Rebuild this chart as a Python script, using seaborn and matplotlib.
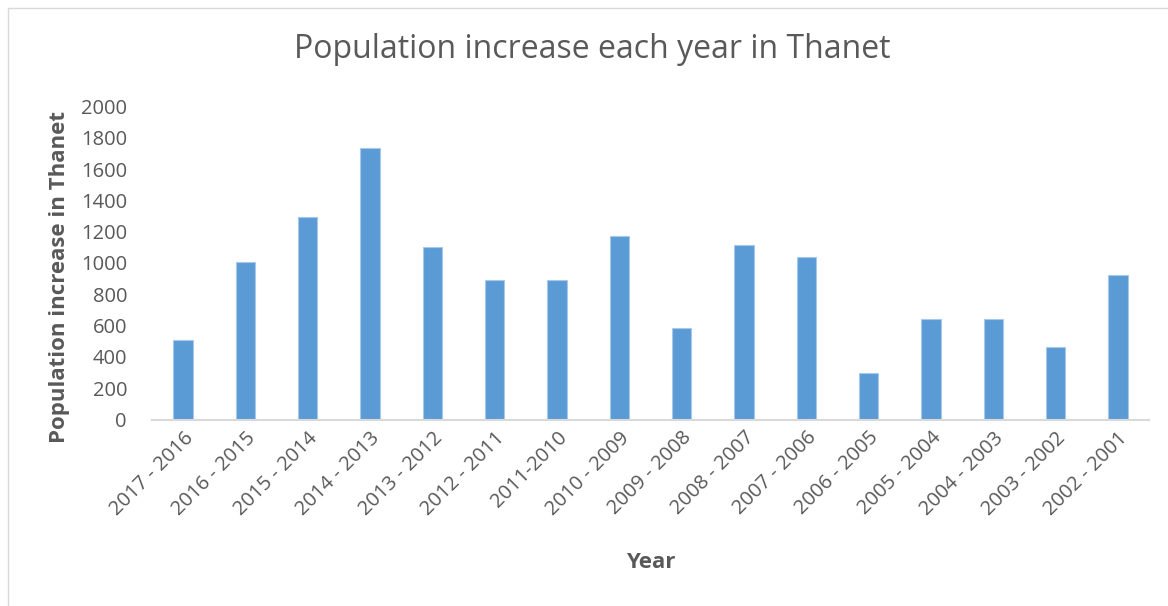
import matplotlib
matplotlib.use("Agg")
import matplotlib.pyplot as plt
import seaborn as sns
import pandas as pd
from matplotlib.patches import Rectangle

periods = ["2017 - 2016", "2016 - 2015", "2015 - 2014", "2014 - 2013", "2013 - 2012",
           "2012 - 2011", "2011-2010", "2010 - 2009", "2009 - 2008", "2008 - 2007",
           "2007 - 2006", "2006 - 2005", "2005 - 2004", "2004 - 2003", "2003 - 2002",
           "2002 - 2001"]
increase = [508, 1004, 1296, 1735, 1104, 891, 891, 1172, 585, 1113, 1036, 295, 640, 640, 461, 923]
y_ticks = [0, 200, 400, 600, 800, 1000, 1200, 1400, 1600, 1800, 2000]

sns.set_theme(style="white")
plt.rcParams['font.family'] = ['Open Sans', 'DejaVu Sans']

W, H = 1168, 606
fig = plt.figure(figsize=(W / 100, H / 100), dpi=100)
ax = fig.add_axes([152 / W, 1 - 419.5 / H, (1149 - 152) / W, (419.5 - 106.5) / H])

df = pd.DataFrame({"period": periods, "increase": increase})
sns.barplot(data=df, x="period", y="increase", ax=ax, color="#5b9bd5",
            saturation=1, width=0.31, edgecolor="#a8c8ea", linewidth=0.8)

ax.set_ylim(0, 2000)
ax.set_yticks(y_ticks)
ax.set_xlim(-0.5, len(periods) - 0.5)
grey = "#595959"
ax.tick_params(axis="y", labelsize=14.5, colors=grey, length=0, pad=18)
ax.tick_params(axis="x", labelsize=14.5, colors=grey, length=0, pad=6)
plt.setp(ax.get_xticklabels(), rotation=45, ha="right", rotation_mode="anchor")

for s in ["top", "right", "left"]:
    ax.spines[s].set_visible(False)
ax.spines["bottom"].set_color("#d9d9d9")
ax.spines["bottom"].set_linewidth(1.5)

ax.set_xlabel("")
ax.set_ylabel("")
fig.text(651 / W, 1 - 563 / H, "Year", ha="center", va="center",
         fontsize=16, fontweight="bold", color=grey)
fig.text(60 / W, 1 - 277 / H, "Population increase in Thanet", ha="center", va="center",
         rotation=90, fontsize=16, fontweight="bold", color=grey)
fig.text(592 / W, 1 - 50 / H, "Population increase each year in Thanet", ha="center",
         va="center", fontsize=23, color=grey)

fig.add_artist(Rectangle((8 / W, -0.05), 1.2, 1 - 8 / H + 0.05, transform=fig.transFigure,
                         fill=False, edgecolor="#d9d9d9", linewidth=1))

fig.savefig("out.png", dpi=100)
